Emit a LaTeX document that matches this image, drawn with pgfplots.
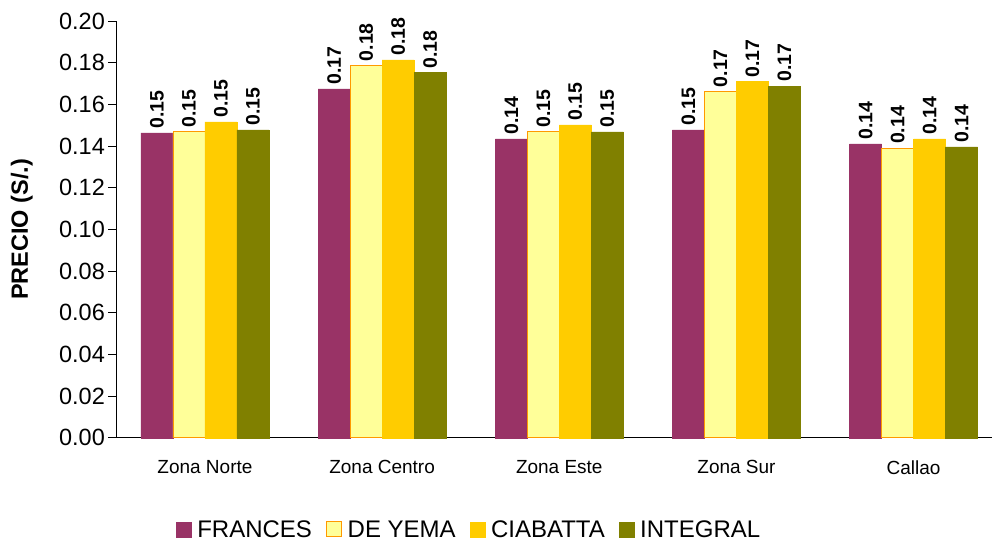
\documentclass[border=0pt]{standalone}
\usepackage{pgfplots}
\pgfplotsset{compat=1.18}
\usepackage{fontspec}
\setmainfont{Liberation Sans}
\definecolor{frances}{HTML}{993366}
\definecolor{yema}{HTML}{FFFF99}
\definecolor{yemaborde}{HTML}{FF9900}
\definecolor{ciabatta}{HTML}{FFCC00}
\definecolor{integral}{HTML}{808000}
\begin{document}
\begin{tikzpicture}
\begin{axis}[
    at={(0,0)}, anchor=south west,
    scale only axis,
    width=875.6pt, height=417pt,
    ybar=0pt, bar width=32pt,
    xmin=-0.5, xmax=4.44,
    ymin=0, ymax=0.2,
    xtick={0,1,2,3,4},
    xticklabels={Zona Norte, Zona Centro, Zona Este, Zona Sur, Callao},
    extra x ticks={-0.5,0.5,1.5,2.5,3.5},
    extra x tick labels={},
    extra x tick style={major tick length=9pt, tick style={black, line width=0.8pt}, tick align=outside},
    x tick style={draw=none},
    ytick={0,0.02,...,0.2},
    y tick style={black, line width=0.8pt},
    major tick length=8pt,
    tick align=outside,
    axis x line*=bottom, axis y line*=left,
    axis line style={black, line width=0.8pt, -},
    /pgf/number format/assume math mode=true,
    yticklabel style={/pgf/number format/.cd, fixed, fixed zerofill, precision=2},
    ticklabel style={font=\fontsize{23.5}{25}\selectfont},
    xticklabel style={font=\fontsize{19}{21}\selectfont, yshift=-11pt},
    ylabel={\bfseries PRECIO (S/.)},
    ylabel style={at={(axis description cs:-0.108,0.5)}, anchor=center, font=\fontsize{23.5}{25}\selectfont},
    nodes near coords={\pgfmathprintnumber[fixed,fixed zerofill,precision=2]{\pgfplotspointmeta}},
    nodes near coords style={rotate=90, anchor=west, font=\bfseries\fontsize{19.5}{20}\selectfont, inner sep=4pt},
    clip=false,
    legend columns=4,
    legend style={at={(axis description cs:0.403,-0.2207)}, anchor=center, draw=none, fill=none,
        font=\fontsize{24}{26}\selectfont,
        /tikz/every odd column/.append style={column sep=4pt},
        /tikz/every even column/.append style={column sep=12pt},
        nodes={inner xsep=2pt}},
    legend image code/.code={\draw[#1] (0pt,-7pt) rectangle (15pt,8pt);},
]
\addplot[fill=frances, draw=frances] coordinates {(0,0.1463) (1,0.1674) (2,0.1434) (3,0.1477) (4,0.1410)};
\addplot[fill=yema, draw=yemaborde, line width=0.8pt] coordinates {(0,0.1469) (1,0.1786) (2,0.1469) (3,0.1661) (4,0.1389)};
\addplot[fill=ciabatta, draw=ciabatta] coordinates {(0,0.1516) (1,0.1813) (2,0.1501) (3,0.1709) (4,0.1434)};
\addplot[fill=integral, draw=integral] coordinates {(0,0.1477) (1,0.1752) (2,0.1468) (3,0.1688) (4,0.1396)};
\legend{FRANCES, DE YEMA, CIABATTA, INTEGRAL}
\end{axis}
\useasboundingbox (-116.4pt,-104pt) rectangle (875.6pt,438pt);
\end{tikzpicture}
\end{document}
